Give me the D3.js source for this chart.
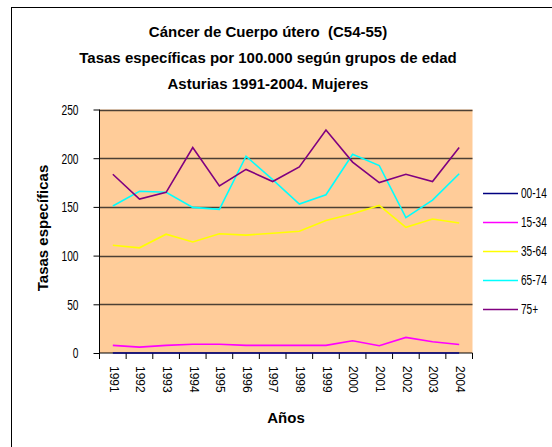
<!DOCTYPE html>
<html>
<head>
<meta charset="utf-8">
<script src="https://cdn.jsdelivr.net/npm/d3@7"></script>
<style>
  body { margin: 0; background: #fff; }
  text { font-family: "Liberation Sans", Arial, sans-serif; }
</style>
</head>
<body>
<div class="chart"></div>
<script>
// datos
var years = ["1991", "1992", "1993", "1994", "1995", "1996", "1997", "1998", "1999", "2000", "2001", "2002", "2003", "2004"];
var groups = ["00-14", "15-34", "35-64", "65-74", "75+"];
var s0014 = [0, 0, 0, 0, 0, 0, 0, 0, 0, 0, 0, 0, 0, 0];
var s1534 = [7.8, 6, 7.8, 9, 9, 7.8, 7.8, 7.8, 7.8, 12.5, 7.5, 16, 11.5, 8.8];
var s3564 = [110.7, 108, 122, 114, 122.5, 121, 123, 125, 136, 143, 151.5, 129, 137.5, 133.5];
var s6574 = [151, 166, 165, 149.5, 147.5, 202, 178, 153, 162.5, 204, 192.5, 139, 157, 184];
var s75 = [183.5, 158, 165, 211, 171.5, 188.5, 176, 191, 229, 196, 175, 183.5, 176, 211];
var yTicks = [0, 50, 100, 150, 200, 250];
var colors = ["#000080", "#ff00ff", "#ffff00", "#00ffff", "#800080"];

var series = [s0014, s1534, s3564, s6574, s75];

var width = 552;
var height = 447;
var svg = d3.select(".chart").append("svg")
.attr("width", width)
.attr("height", height);

// letra estrecha: se mide el texto y se comprime en horizontal
function narrow(sel, factor) {
  sel.each(function () {
    var len = this.getComputedTextLength();
    d3.select(this)
    .attr("textLength", len * factor)
    .attr("lengthAdjust", "spacingAndGlyphs");
  });
}

// marco exterior
svg.append("rect")
.attr("x", 11.5).attr("y", 7.5)
.attr("width", 600).attr("height", 500)
.attr("fill", "none").attr("stroke", "#000");

// titulo
var titles = ["Cáncer de Cuerpo útero  (C54-55)", "Tasas específicas por 100.000 según grupos de edad", "Asturias 1991-2004. Mujeres"];
svg.selectAll("text.title")
.data(titles)
.enter()
.append("text")
.attr("class", "title")
.attr("x", 268)
.attr("y", (d, i) => 37 + i * 26)
.attr("text-anchor", "middle")
.attr("font-size", 15)
.attr("font-weight", "bold")
.style("white-space", "pre")
.text(d => d);

var plot = { left: 99.5, right: 472.5, top: 109.5, bottom: 353 };

var x = d3.scaleBand()
.domain(years)
.range([plot.left, plot.right]);

var y = d3.scaleLinear()
.domain([0, 250])
.range([plot.bottom, plot.top]);

// fondo del area de trazado
svg.append("rect")
.attr("x", plot.left).attr("y", plot.top)
.attr("width", plot.right - plot.left)
.attr("height", plot.bottom - plot.top)
.attr("fill", "#ffcc99");

// lineas de division
svg.selectAll("line.grid")
.data(yTicks.filter(d => d > 0))
.enter()
.append("line")
.attr("class", "grid")
.attr("x1", plot.left).attr("x2", plot.right)
.attr("y1", d => Math.round(y(d)) + 0.5)
.attr("y2", d => Math.round(y(d)) + 0.5)
.attr("stroke", "#4d4035")
.attr("stroke-width", 1.5);

// eje Y
var yAxis = svg.append("g")
.attr("transform", "translate(" + plot.left + ",0)")
.call(d3.axisLeft(y).tickValues(yTicks).tickSize(6).tickPadding(21));
yAxis.select(".domain").attr("stroke", "#000").attr("d", "M0," + plot.top + "V" + plot.bottom);
yAxis.selectAll("text")
.attr("font-size", 15)
.attr("fill", "#000")
.attr("font-family", "'Liberation Sans', Arial, sans-serif");
yAxis.selectAll(".tick text").each(function () {
  // alinear a la derecha tras comprimir
  var len = this.getComputedTextLength() * 0.68;
  d3.select(this)
  .attr("text-anchor", "start")
  .attr("x", -21 - len)
  .attr("textLength", len)
  .attr("lengthAdjust", "spacingAndGlyphs");
});

// eje X
var xAxis = svg.append("g")
.attr("transform", "translate(0," + plot.bottom + ")")
.call(d3.axisBottom(x).tickSize(0));
xAxis.select(".domain").attr("stroke", "#000").attr("d", "M" + plot.left + ",0H" + plot.right);
// marcas entre categorias
xAxis.selectAll("line.sep")
.data(d3.range(years.length + 1))
.enter()
.append("line")
.attr("class", "sep")
.attr("x1", i => plot.left + i * x.bandwidth())
.attr("x2", i => plot.left + i * x.bandwidth())
.attr("y1", 0).attr("y2", 6)
.attr("stroke", "#000");
xAxis.selectAll(".tick text")
.attr("font-size", 12)
.attr("fill", "#000")
.attr("transform", "rotate(90)")
.attr("x", 13)
.attr("y", 0)
.attr("dy", "0.35em")
.attr("text-anchor", "start")
.attr("font-family", "'Liberation Sans', Arial, sans-serif");
xAxis.selectAll(".tick").each(function (d) {
  d3.select(this).attr("transform", "translate(" + (x(d) + x.bandwidth() / 2 + 1) + ",0)");
});

// titulos de ejes
svg.append("text")
.attr("x", 286).attr("y", 423)
.attr("text-anchor", "middle")
.attr("font-size", 15).attr("font-weight", "bold")
.text("Años");

svg.append("text")
.attr("transform", "translate(48,228) rotate(-90)")
.attr("text-anchor", "middle")
.attr("font-size", 15).attr("font-weight", "bold")
.text("Tasas específicas");

// series
var line = d3.line()
.x((d, i) => x(years[i]) + x.bandwidth() / 2)
.y(d => y(d));

svg.selectAll("path.serie")
.data(series)
.enter()
.append("path")
.attr("class", "serie")
.attr("d", d => line(d))
.attr("fill", "none")
.attr("stroke", (d, i) => colors[i])
.attr("stroke-width", 1.6);

// leyenda
var legend = svg.selectAll("g.legend")
.data(groups)
.enter()
.append("g")
.attr("class", "legend")
.attr("transform", (d, i) => "translate(483," + (193 + i * 29) + ")");
legend.append("line")
.attr("x1", 0).attr("x2", 35)
.attr("y1", 0.5).attr("y2", 0.5)
.attr("stroke", (d, i) => colors[i])
.attr("stroke-width", 1.6);
legend.append("text")
.attr("x", 38).attr("y", 0)
.attr("dy", "0.35em")
.attr("font-size", 14)
.text(d => d)
.call(narrow, 0.72);
</script>
</body>
</html>
